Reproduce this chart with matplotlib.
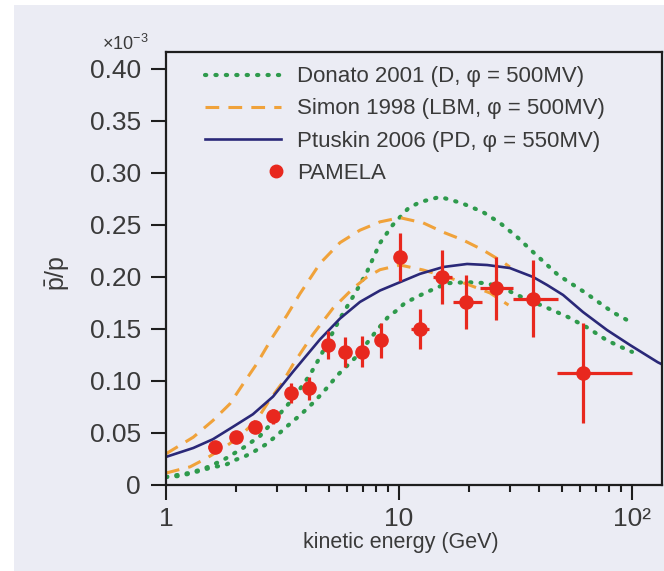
import matplotlib
matplotlib.use('Agg')
import matplotlib.pyplot as plt
from matplotlib.lines import Line2D
from matplotlib.legend_handler import HandlerBase
from matplotlib.patches import Rectangle
import matplotlib.ticker as mt

plt.rcParams['font.family'] = ['Liberation Sans', 'DejaVu Sans']
plt.rcParams['mathtext.fontset'] = 'custom'
plt.rcParams['mathtext.rm'] = 'Liberation Sans'
plt.rcParams['mathtext.it'] = 'Liberation Sans'
plt.rcParams['mathtext.bf'] = 'Liberation Sans:bold'

# ---------------- data ----------------
# PAMELA antiproton/proton ratio (values in units of 1e-3 shown as 0.xx)
pam_E = [1.62, 2.00, 2.41, 2.88, 3.44, 4.11, 4.96, 5.87, 6.94, 8.37, 10.1, 12.3, 15.3, 19.4, 26.1, 37.6, 61.6]
pam_v = [0.0365, 0.046, 0.056, 0.066, 0.0885, 0.093, 0.135, 0.128, 0.128, 0.139, 0.219, 0.150, 0.200, 0.176, 0.189, 0.179, 0.108]
pam_err = [0.005, 0.005, 0.006, 0.007, 0.010, 0.011, 0.0135, 0.0145, 0.015, 0.017, 0.023, 0.0195, 0.026, 0.026, 0.030, 0.037, 0.048]
pam_Elo = [1.52, 1.88, 2.27, 2.71, 3.24, 3.87, 4.67, 5.53, 6.54, 7.89, 9.50, 11.3, 14.0, 17.1, 22.3, 30.8, 47.6]
pam_Ehi = [1.72, 2.12, 2.55, 3.05, 3.64, 4.35, 5.25, 6.21, 7.34, 8.85, 10.7, 13.4, 16.9, 22.7, 30.8, 48.1, 100.0]

# Donato 2001 band (upper and lower edges)
don_up_E = [1.0, 1.29, 1.5, 1.76, 2.14, 2.53, 2.93, 3.18, 3.51, 4.15, 4.58, 5.58, 6.6, 7.29, 8.29, 9.4, 10.96,
            12.3, 15.0, 18.6, 22.9, 27.1, 32.1, 37.6, 48.1, 62.9, 82.8, 100.0]
don_up_v = [0.0077, 0.012, 0.017, 0.024, 0.0356, 0.047, 0.063, 0.072, 0.083, 0.106, 0.123, 0.160, 0.1875, 0.205, 0.2327, 0.250, 0.266,
            0.272, 0.277, 0.271, 0.2625, 0.252, 0.2385, 0.224, 0.202, 0.185, 0.166, 0.156]
don_lo_E = [1.0, 1.15, 1.29, 1.44, 1.59, 1.79, 1.98, 2.2, 2.41, 2.66, 2.93, 3.18, 3.51, 3.76, 4.28, 4.72, 5.47, 6.6,
            8.05, 8.97, 9.8, 10.6, 12.9, 16.1, 19.6, 23.9, 29.1, 32.1, 43.6, 53.1, 64.7, 78.1, 95.2, 100.0]
don_lo_v = [0.0077, 0.0087, 0.0115, 0.0144, 0.0173, 0.019, 0.024, 0.028, 0.0327, 0.0385, 0.046, 0.053, 0.0615, 0.067, 0.079, 0.089, 0.106, 0.124,
            0.149, 0.1615, 0.168, 0.175, 0.1846, 0.194, 0.195, 0.194, 0.1875, 0.1827, 0.170, 0.1615, 0.151, 0.139, 0.130, 0.128]

# Simon 1998 band (upper and lower edges)
sim_up_E = [1.0, 1.31, 1.59, 1.88, 2.14, 2.46, 2.88, 3.30, 3.76, 4.58, 5.58, 6.8, 8.29, 10.1, 12.7, 15.5, 18.8, 22.9, 27.9, 29.9]
sim_up_v = [0.030, 0.046, 0.062, 0.078, 0.097, 0.117, 0.143, 0.163, 0.184, 0.213, 0.233, 0.245, 0.253, 0.257, 0.252, 0.243, 0.2356, 0.226, 0.2144, 0.2096]
sim_lo_E = [1.0, 1.27, 1.5, 1.83, 2.08, 2.46, 2.79, 3.15, 3.51, 4.28, 5.21, 6.35, 7.29, 8.29, 10.1, 12.7, 16.1, 20.2, 24.6, 29.5]
sim_lo_v = [0.0115, 0.0175, 0.026, 0.038, 0.047, 0.063, 0.082, 0.098, 0.116, 0.145, 0.170, 0.189, 0.200, 0.207, 0.2115, 0.2067, 0.200, 0.192, 0.1846, 0.173]

# Ptuskin 2006
ptu_E = [1.0, 1.31, 1.59, 1.94, 2.36, 2.88, 3.51, 4.58, 5.58, 6.8, 8.29, 10.1, 12.3, 15.5, 19.6, 23.9, 29.9, 37.6,
         43.2, 50.6, 61.6, 78.1, 98.0, 129.0, 134.5]
ptu_v = [0.027, 0.0356, 0.044, 0.056, 0.068, 0.085, 0.109, 0.140, 0.160, 0.176, 0.187, 0.195, 0.203, 0.2096, 0.2125, 0.2115, 0.2086, 0.200,
         0.1923, 0.1827, 0.1663, 0.149, 0.1346, 0.118, 0.116]

yticks = [0, 0.05, 0.10, 0.15, 0.20, 0.25, 0.30, 0.35, 0.40]
ytick_labels = ["0", "0.05", "0.10", "0.15", "0.20", "0.25", "0.30", "0.35", "0.40"]
xticks = [1, 10, 100]
xtick_labels = ["1", "10", "10²"]
legend_labels = ["Donato 2001 (D, φ = 500MV)", "Simon 1998 (LBM, φ = 500MV)",
                 "Ptuskin 2006 (PD, φ = 550MV)", "PAMELA"]

# ---------------- style ----------------
BG = '#ebecf4'
GREEN = '#2e9a4c'
ORANGE = '#f0a23a'
NAVY = '#2a2878'
RED = '#e8281e'
TXT = '#3a3a3a'
SPINE = '#1e1e1e'

fig = plt.figure(figsize=(6.64, 5.71), dpi=100)
fig.patch.set_facecolor('white')
fig.add_artist(Rectangle((14 / 664, 0), 1 - 14 / 664, (571 - 5) / 571, transform=fig.transFigure,
                         facecolor=BG, edgecolor='none', zorder=-10))

ax = fig.add_axes([166 / 664, 86 / 571, 496 / 664, 433 / 571])
ax.set_facecolor('none')
ax.set_xscale('log')
ax.set_xlim(1, 134.5)
ax.set_ylim(0, 0.4163)

dot_kw = dict(color=GREEN, lw=3.0, dashes=(0.3, 2.2), dash_capstyle='round', solid_capstyle='round')
dash_kw = dict(color=ORANGE, lw=2.2, dashes=(4.5, 3.0))

h_don, = ax.plot(don_up_E, don_up_v, **dot_kw)
ax.plot(don_lo_E, don_lo_v, **dot_kw)
h_sim, = ax.plot(sim_up_E, sim_up_v, **dash_kw)
ax.plot(sim_lo_E, sim_lo_v, **dash_kw)
h_ptu, = ax.plot(ptu_E, ptu_v, color=NAVY, lw=1.9)

xerr = [[e - lo for e, lo in zip(pam_E, pam_Elo)], [hi - e for e, hi in zip(pam_E, pam_Ehi)]]
ax.errorbar(pam_E, pam_v, yerr=pam_err, xerr=xerr, fmt='o', color=RED, ms=9.5,
            elinewidth=2.3, capsize=0, zorder=5)
h_pam = Line2D([], [], ls='none', marker='o', ms=9, color=RED)


class RightMarker(HandlerBase):
    def create_artists(self, legend, orig_handle, xdescent, ydescent, width, height, fontsize, trans):
        ln = Line2D([width - xdescent - 3], [height / 2 - ydescent], ls='none', marker='o',
                    ms=orig_handle.get_markersize(), color=orig_handle.get_color())
        ln.set_transform(trans)
        return [ln]


leg = ax.legend([h_don, h_sim, h_ptu, h_pam], legend_labels, loc='upper left',
                bbox_to_anchor=(0.0786, 0.967), frameon=False, fontsize=16,
                handlelength=3.4, handletextpad=0.75, labelspacing=0.5,
                borderpad=0, borderaxespad=0, handler_map={h_pam: RightMarker()})
for t in leg.get_texts():
    t.set_color(TXT)

ax.set_yticks(yticks)
ax.set_yticklabels(ytick_labels)
ax.set_xticks(xticks)
ax.set_xticklabels(xtick_labels)
ax.xaxis.set_minor_locator(mt.LogLocator(base=10, subs=[2, 3, 4, 5, 6, 7, 8, 9]))
ax.xaxis.set_minor_formatter(mt.NullFormatter())

ax.tick_params(axis='both', which='major', direction='out', length=11, width=1.5,
               labelsize=19, colors=SPINE, labelcolor=TXT)
ax.tick_params(axis='y', which='major', pad=7)
ax.tick_params(axis='x', which='major', pad=5)
ax.tick_params(axis='x', which='minor', direction='out', length=5, width=1.5, colors=SPINE)
for s in ax.spines.values():
    s.set_color(SPINE)
    s.set_linewidth(1.6)

fig.text(102 / 664, 1 - 50 / 571, r'$\times10^{-3}$', fontsize=13, color=TXT, ha='left', va='baseline')
fig.text(401 / 664, 1 - 548 / 571, 'kinetic energy (GeV)', fontsize=15.5, color=TXT, ha='center', va='baseline')
fig.text(57 / 664, 1 - 273 / 571, r'$\bar{\mathrm{p}}/\mathrm{p}$', fontsize=18, color=TXT,
         rotation=90, ha='center', va='center')

fig.savefig('out.png', dpi=100, facecolor=fig.get_facecolor())
